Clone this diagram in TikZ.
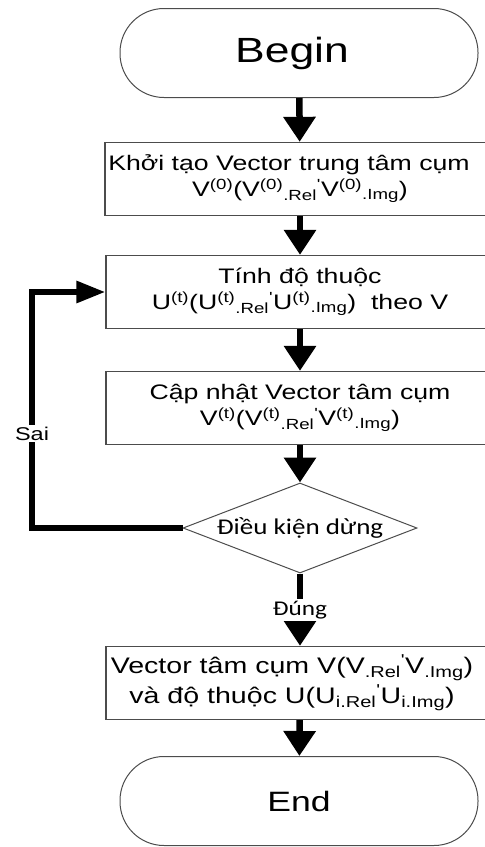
\documentclass[tikz,border=0pt]{standalone}
\usepackage{fontspec}
\setmainfont{Liberation Sans}
\newfontfamily\arialw[FakeStretch=1.27]{Liberation Sans}
\newfontfamily\calw[FakeStretch=1.2]{Carlito}
\usetikzlibrary{shapes.geometric,arrows.meta}
\newcommand{\tick}{\textsuperscript{'}}
\begin{document}
\begin{tikzpicture}[x=1pt,y=-1pt,
  terminal/.style={draw=gray!60!black,line width=1pt,rounded corners=44pt,
    minimum width=358pt,minimum height=89pt,font=\arialw\fontsize{35}{40}\selectfont},
  procbox/.style={draw=gray!60!black,line width=1.3pt,minimum width=388pt,
    minimum height=73pt,align=center,font=\arialw\fontsize{21}{26}\selectfont},
  decision/.style={diamond,aspect=2.6,draw=gray!60!black,line width=1pt,inner sep=0pt,
    minimum width=234pt,minimum height=90pt,font=\calw\fontsize{22.5}{26}\selectfont},
  flow/.style={line width=6.5pt,-{Triangle[length=25pt,width=31pt]}},
  back/.style={line width=6pt,-{Triangle[length=29pt,width=21pt]}},
  lbl/.style={fill=white,inner sep=2pt}]
\useasboundingbox (0,0) rectangle (485,847);
% khoi
\node[terminal] (begin) at (299,53) {Begin\hspace*{14pt}};
\node[procbox] (init) at (300,179) {Khởi tạo Vector trung tâm cụm\hspace*{22pt}\\
  V\textsuperscript{(0)}(V\textsuperscript{(0)}\textsubscript{.Rel}\tick V\textsuperscript{(0)}\textsubscript{.Img})};
\node[procbox] (memb) at (300,292) {Tính độ thuộc\\
  U\textsuperscript{(t)}(U\textsuperscript{(t)}\textsubscript{.Rel}\tick U\textsuperscript{(t)}\textsubscript{.Img})~ theo V};
\node[procbox] (upd) at (300,408) {Cập nhật Vector tâm cụm\\
  V\textsuperscript{(t)}(V\textsuperscript{(t)}\textsubscript{.Rel}\tick V\textsuperscript{(t)}\textsubscript{.Img})};
\node[decision] (cond) at (300,528) {Điều kiện dừng};
\node[procbox,font=\arialw\fontsize{22.5}{30}\selectfont] (res) at (300,683) {Vector tâm cụm V(V\textsubscript{.Rel}\tick V\textsubscript{.Img})\hspace*{16pt}\\
  và độ thuộc U(U\textsubscript{i.Rel}\tick U\textsubscript{i.Img})\hspace*{16pt}};
\node[terminal,font=\arialw\fontsize{28}{32}\selectfont] (end) at (299,801) {End};
\coordinate (loopc) at (32,528);
% mui ten
\draw[flow] (begin) -- (init);
\draw[flow] (init) -- (memb);
\draw[flow] (memb) -- (upd);
\draw[flow] (upd) -- (cond);
\draw[flow] (cond) -- node[lbl,font=\calw\fontsize{21}{24}\selectfont] (yes) {Đúng} (res);
\draw[flow] (res) -- (end);
\draw[back] (cond.west) -- (loopc) |- node[lbl,pos=0.2,font=\arialw\fontsize{18.5}{22}\selectfont] (no) {Sai} (memb.west);
\end{tikzpicture}
\end{document}
